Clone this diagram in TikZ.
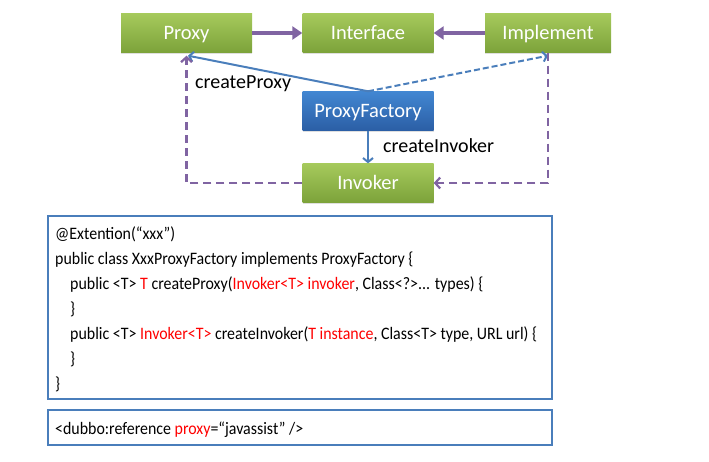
\documentclass[tikz,border=0pt]{standalone}
\usepackage{fontspec}
\setmainfont{Carlito}
\usetikzlibrary{arrows.meta,shadows}
\definecolor{gtop}{HTML}{A6CA5C}
\definecolor{gbot}{HTML}{7CA23A}
\definecolor{btop}{HTML}{4287D2}
\definecolor{bbot}{HTML}{2B5EA5}
\definecolor{purp}{HTML}{8064A2}
\definecolor{bline}{HTML}{4A7EBB}
\definecolor{cred}{HTML}{FF0000}
\newcommand\narrowtxt[1]{\scalebox{0.91}[1]{#1}}
\tikzset{
  gbox/.style={rectangle, minimum width=131pt, minimum height=39pt, inner sep=0pt,
    text height=12.9pt, text depth=0pt,
    top color=gtop, bottom color=gbot, text=white, font=\fontsize{20.5}{24}\selectfont,
    drop shadow={shadow xshift=0pt, shadow yshift=-2pt, opacity=0.25}},
  bbox/.style={gbox, top color=btop, bottom color=bbot},
  parr/.style={draw=purp, line width=3.5pt, -{Triangle[length=10pt,width=13pt]}},
  pdash/.style={draw=purp, line width=2.2pt, dash pattern=on 8pt off 5pt, -{Straight Barb[length=5pt,width=11pt]}},
  barr/.style={draw=bline, line width=2pt, -{Straight Barb[length=4pt,width=10pt]}},
  lbl/.style={font=\fontsize{20}{24}\selectfont, inner sep=0pt, anchor=base west},
  code/.style={font=\fontsize{17.5}{20}\selectfont, inner sep=0pt, anchor=base west},
  cbox/.style={draw=bline, line width=2pt, rectangle, inner sep=0pt},
}
\begin{document}
\begin{tikzpicture}[x=1pt,y=-1pt]
\useasboundingbox (0,0) rectangle (709,462);
\node[gbox] (proxy) at (186.5,33) {Proxy};
\node[gbox] (iface) at (368,33) {Interface};
\node[gbox, minimum width=126pt] (impl) at (548,33) {Implement};
\node[bbox] (pf) at (368,111) {ProxyFactory};
\node[gbox] (inv) at (368,183) {Invoker};

\draw[parr] (proxy) -- (iface);
\draw[parr] (impl) -- (iface);

\coordinate (pfTop) at (pf.north);
\draw[barr] (pfTop) -- ([xshift=1.5pt,yshift=-3pt]proxy.south);
\draw[barr, dash pattern=on 6pt off 3pt] (pfTop) -- ([yshift=-3pt]impl.south);
\draw[barr] (pf.south) -- (inv.north);

\coordinate (lc) at (proxy.south |- inv.west);
\coordinate (rc) at (impl.south |- inv.east);
\draw[pdash] (inv.west) -- (lc) -- ([yshift=-3pt]proxy.south);
\draw[pdash] (impl.south) -- (rc) -- (inv.east);

\node[lbl] (cpl) at (195,89) {createProxy};
\node[lbl] (cil) at (383,153) {createInvoker};

\node[cbox, minimum width=504pt, minimum height=183pt, anchor=north west] (cb) at (47,215) {};
\node[code] (l1) at (55,240) {\narrowtxt{@Extention(“xxx”)}};
\node[code] (l2) at (55,265) {\narrowtxt{public class XxxProxyFactory implements ProxyFactory \{}};
\node[code] (l3) at (70,290) {\narrowtxt{public <T> \textcolor{cred}{T} createProxy(\textcolor{cred}{Invoker<T> invoker}, Class<?>... types) \{}};
\node[code] (l4) at (70,314) {\narrowtxt{\}}};
\node[code] (l5) at (70,339) {\narrowtxt{public <T> \textcolor{cred}{Invoker<T>} createInvoker(\textcolor{cred}{T instance}, Class<T> type, URL url) \{}};
\node[code] (l6) at (70,364) {\narrowtxt{\}}};
\node[code] (l7) at (55,389) {\narrowtxt{\}}};

\node[cbox, minimum width=504pt, minimum height=35pt, anchor=north west] (rb) at (47,409) {};
\node[code] (r1) at (55,434) {\narrowtxt{<dubbo:reference \textcolor{cred}{proxy}=“javassist” />}};
\end{tikzpicture}
\end{document}
